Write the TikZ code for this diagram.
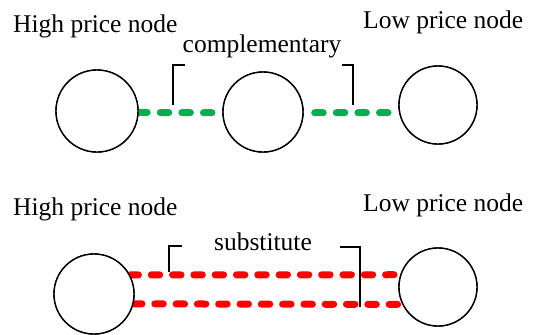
\documentclass[tikz,border=0pt]{standalone}
\usepackage{fontspec}
\setmainfont{Liberation Serif}
\begin{document}
\begin{tikzpicture}[x=1bp,y=-1bp,
  market/.style={circle,draw=black,line width=1.4bp,fill=white,inner sep=0pt},
  label/.style={inner sep=0pt,font=\fontsize{25.5bp}{30bp}\selectfont},
  greenlink/.style={draw={rgb,255:red,0;green,176;blue,80},line width=7bp,line cap=round,dash pattern=on 8.5bp off 13.1bp},
  redlink/.style={draw={rgb,255:red,255;green,0;blue,0},line width=7bp,line cap=round,dash pattern=on 8.5bp off 12.8bp},
  bracket/.style={draw=black,line width=1.3bp}]
\useasboundingbox (0,0) rectangle (541,334);

% complementary chain
\node[market,minimum size=82bp] (h1) at (97,111) {};
\node[market,minimum size=80bp] (m1) at (263,112) {};
\node[market,minimum size=78bp] (l1) at (438,105) {};
\draw[greenlink] (h1.-2.8) -- (m1.181.4);
\draw[greenlink,shorten <=11bp] (m1.-1.4) -- (l1.191.8);
\node[market,minimum size=82bp] at (h1) {};
\node[market,minimum size=80bp] at (m1) {};
\node[market,minimum size=78bp] at (l1) {};

\node[label,anchor=base west] (hl1) at (13,32) {High price node};
\node[label,anchor=base west] (ll1) at (363,28) {Low price node};
\node[label,anchor=base] (comp) at (262,52) {complementary};
\draw[bracket] (173,105) -- (173,65) -- (185,65);
\draw[bracket] (342,65) -- (353,65) -- (353,105);

% substitute pair
\node[market,minimum size=80bp] (h2) at (94,294) {};
\node[market,minimum size=78bp] (l2) at (438,287) {};
\draw[redlink] (h2.28) -- (l2.162);
\draw[redlink] (h2.-14) -- (l2.206);
\node[market,minimum size=80bp] at (h2) {};
\node[market,minimum size=78bp] at (l2) {};

\node[label,anchor=base west] (hl2) at (13,215) {High price node};
\node[label,anchor=base west] (ll2) at (363,211) {Low price node};
\node[label,anchor=base] (subs) at (263,250) {substitute};
\draw[bracket] (169,272) -- (169,246) -- (182,246);
\draw[bracket] (340,247) -- (360,247) -- (360,307);
\end{tikzpicture}
\end{document}
